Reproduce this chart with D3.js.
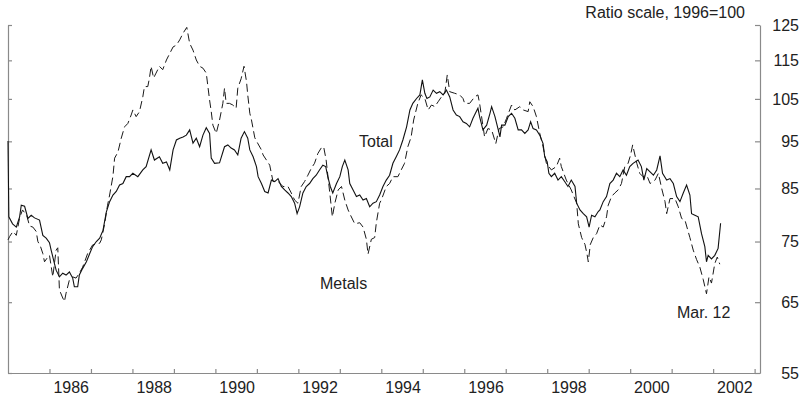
<!DOCTYPE html>
<html>
<head>
<meta charset="utf-8">
<script src="https://cdn.jsdelivr.net/npm/d3@7"></script>
<style>
  body { margin: 0; background: #fff; }
  svg { display: block; font-family: "Liberation Sans", Arial, Helvetica, sans-serif; }
</style>
</head>
<body>
<div id="chart"></div>
<script>
// Total index (solid), decimal years
const totalYears = [
  1985.00, 1985.02, 1985.11, 1985.20, 1985.28, 1985.32, 1985.40, 1985.48, 1985.56, 1985.64,
  1985.76, 1985.84, 1985.92, 1986.00, 1986.04, 1986.12, 1986.16, 1986.24, 1986.32, 1986.40,
  1986.48, 1986.56, 1986.60, 1986.68, 1986.72, 1986.80, 1986.89, 1986.97, 1987.04, 1987.13,
  1987.21, 1987.29, 1987.37, 1987.45, 1987.53, 1987.61, 1987.69, 1987.77, 1987.85, 1987.93,
  1988.01, 1988.13, 1988.25, 1988.33, 1988.45, 1988.53, 1988.65, 1988.73, 1988.82, 1988.90,
  1988.98, 1989.06, 1989.14, 1989.22, 1989.30, 1989.38, 1989.46, 1989.54, 1989.62, 1989.70,
  1989.78, 1989.86, 1989.90, 1989.98, 1990.10, 1990.22, 1990.30, 1990.38, 1990.46, 1990.54,
  1990.62, 1990.70, 1990.78, 1990.83, 1990.91, 1990.99, 1991.03, 1991.11, 1991.19, 1991.27,
  1991.35, 1991.43, 1991.51, 1991.59, 1991.67, 1991.75, 1991.83, 1991.91, 1991.97, 1992.03,
  1992.11, 1992.19, 1992.27, 1992.35, 1992.43, 1992.51, 1992.59, 1992.66, 1992.71, 1992.77,
  1992.83, 1992.92, 1993.00, 1993.06, 1993.12, 1993.20, 1993.24, 1993.32, 1993.40, 1993.48,
  1993.56, 1993.64, 1993.72, 1993.80, 1993.88, 1993.96, 1994.04, 1994.12, 1994.20, 1994.28,
  1994.36, 1994.44, 1994.52, 1994.61, 1994.69, 1994.76, 1994.85, 1994.93, 1994.99, 1995.05,
  1995.10, 1995.17, 1995.25, 1995.33, 1995.41, 1995.49, 1995.57, 1995.65, 1995.73, 1995.81,
  1995.89, 1995.97, 1996.05, 1996.13, 1996.21, 1996.29, 1996.33, 1996.37, 1996.45, 1996.54,
  1996.62, 1996.66, 1996.74, 1996.82, 1996.86, 1996.90, 1996.98, 1997.06, 1997.14, 1997.22,
  1997.30, 1997.38, 1997.46, 1997.54, 1997.60, 1997.66, 1997.74, 1997.82, 1997.90, 1997.94,
  1998.00, 1998.04, 1998.10, 1998.18, 1998.26, 1998.34, 1998.42, 1998.50, 1998.58, 1998.67,
  1998.71, 1998.79, 1998.87, 1998.95, 1999.01, 1999.07, 1999.15, 1999.23, 1999.27, 1999.35,
  1999.43, 1999.51, 1999.59, 1999.67, 1999.75, 1999.83, 1999.91, 1999.99, 2000.07, 2000.19,
  2000.27, 2000.33, 2000.40, 2000.48, 2000.56, 2000.64, 2000.72, 2000.78, 2000.88, 2000.96,
  2001.04, 2001.12, 2001.20, 2001.28, 2001.36, 2001.44, 2001.48, 2001.56, 2001.64, 2001.72,
  2001.80, 2001.84, 2001.88, 2001.96, 2002.04, 2002.12, 2002.18
];
const totalValues = [
  95.1, 79.5, 78.2, 77.6, 79.5, 81.7, 81.5, 79.2, 79.8, 79.3,
  78.9, 76.1, 75.6, 74.8, 73.5, 71.2, 70.1, 69.0, 69.6, 69.3,
  69.8, 68.8, 67.4, 67.4, 69.3, 70.4, 71.5, 72.9, 74.1, 75.0,
  75.6, 77.0, 80.4, 82.4, 83.7, 84.4, 85.7, 86.0, 87.4, 87.4,
  88.1, 87.4, 88.8, 89.5, 93.1, 90.9, 91.6, 90.2, 90.5, 88.8,
  93.1, 95.3, 95.7, 96.0, 96.4, 97.6, 94.6, 95.7, 93.8, 96.4,
  98.1, 96.8, 91.3, 90.2, 90.3, 93.8, 94.2, 93.5, 93.1, 92.0,
  95.7, 97.2, 95.7, 93.1, 91.6, 89.5, 87.4, 86.0, 84.4, 84.1,
  86.7, 86.4, 87.0, 85.4, 84.7, 84.1, 83.4, 82.1, 80.1, 81.4,
  84.1, 85.4, 86.0, 87.0, 87.7, 88.8, 89.8, 89.5, 87.4, 85.4,
  84.1, 86.0, 87.4, 89.5, 90.9, 88.8, 86.0, 84.7, 83.4, 83.7,
  82.7, 83.0, 81.4, 82.1, 82.4, 83.7, 85.4, 86.7, 87.7, 90.2,
  91.6, 93.1, 95.3, 98.3, 102.3, 103.9, 105.1, 106.0, 109.8, 106.4,
  105.1, 105.5, 107.2, 106.4, 106.8, 106.0, 107.2, 105.5, 102.3, 101.1,
  100.7, 99.5, 99.1, 98.3, 100.3, 101.9, 102.7, 100.7, 97.6, 98.7,
  101.5, 103.1, 100.7, 97.6, 96.0, 98.7, 98.7, 100.7, 101.5, 100.3,
  97.6, 97.6, 96.8, 97.6, 99.5, 97.9, 97.6, 96.4, 94.5, 91.6,
  90.5, 88.1, 87.4, 88.1, 86.7, 87.4, 86.4, 85.4, 86.7, 85.4,
  82.1, 80.8, 80.1, 79.5, 77.6, 79.8, 79.5, 80.5, 80.8, 82.4,
  83.4, 86.0, 86.7, 88.1, 87.4, 88.8, 87.7, 89.5, 90.2, 90.9,
  89.5, 86.7, 89.1, 88.4, 87.7, 88.8, 91.8, 88.1, 86.7, 87.0,
  86.0, 83.4, 82.4, 84.1, 85.7, 83.7, 80.1, 79.8, 79.5, 76.4,
  74.1, 71.5, 72.6, 72.0, 72.6, 73.8, 78.3
];

// Metals index (dashed)
const metalsYears = [
  1985.00, 1985.04, 1985.12, 1985.20, 1985.28, 1985.35, 1985.45, 1985.52, 1985.60, 1985.68,
  1985.72, 1985.78, 1985.84, 1985.88, 1985.96, 1986.00, 1986.08, 1986.16, 1986.20, 1986.24,
  1986.31, 1986.36, 1986.40, 1986.48, 1986.56, 1986.64, 1986.72, 1986.80, 1986.92, 1987.04,
  1987.21, 1987.25, 1987.33, 1987.40, 1987.45, 1987.53, 1987.57, 1987.65, 1987.73, 1987.81,
  1987.89, 1987.97, 1988.01, 1988.09, 1988.17, 1988.25, 1988.29, 1988.37, 1988.41, 1988.45,
  1988.51, 1988.57, 1988.65, 1988.73, 1988.82, 1988.90, 1988.98, 1989.06, 1989.14, 1989.22,
  1989.31, 1989.38, 1989.46, 1989.54, 1989.62, 1989.70, 1989.78, 1989.86, 1989.90, 1989.94,
  1990.02, 1990.10, 1990.18, 1990.22, 1990.26, 1990.34, 1990.42, 1990.50, 1990.54, 1990.62,
  1990.69, 1990.75, 1990.78, 1990.83, 1990.87, 1990.95, 1991.03, 1991.11, 1991.15, 1991.23,
  1991.31, 1991.39, 1991.51, 1991.63, 1991.75, 1991.83, 1991.91, 1991.99, 1992.07, 1992.15,
  1992.23, 1992.31, 1992.39, 1992.47, 1992.55, 1992.61, 1992.67, 1992.75, 1992.82, 1992.88,
  1992.96, 1993.04, 1993.12, 1993.20, 1993.24, 1993.36, 1993.48, 1993.56, 1993.64, 1993.68,
  1993.76, 1993.84, 1993.88, 1993.96, 1994.00, 1994.12, 1994.20, 1994.28, 1994.40, 1994.48,
  1994.56, 1994.64, 1994.72, 1994.78, 1994.88, 1994.96, 1995.05, 1995.13, 1995.21, 1995.29,
  1995.37, 1995.45, 1995.53, 1995.59, 1995.65, 1995.77, 1995.89, 1995.97, 1996.01, 1996.09,
  1996.13, 1996.25, 1996.33, 1996.37, 1996.49, 1996.57, 1996.66, 1996.76, 1996.84, 1996.94,
  1997.02, 1997.14, 1997.22, 1997.34, 1997.42, 1997.54, 1997.58, 1997.66, 1997.74, 1997.82,
  1997.90, 1997.98, 1998.10, 1998.22, 1998.30, 1998.34, 1998.46, 1998.58, 1998.71, 1998.75,
  1998.83, 1998.91, 1998.96, 1998.99, 1999.04, 1999.11, 1999.19, 1999.27, 1999.35, 1999.43,
  1999.47, 1999.55, 1999.63, 1999.71, 1999.79, 1999.87, 1999.95, 2000.01, 2000.06, 2000.16,
  2000.23, 2000.31, 2000.40, 2000.48, 2000.60, 2000.68, 2000.76, 2000.84, 2000.88, 2000.96,
  2001.08, 2001.16, 2001.24, 2001.32, 2001.44, 2001.52, 2001.60, 2001.68, 2001.76, 2001.84,
  2001.90, 2001.96, 2002.04, 2002.10, 2002.16
];
const metalsValues = [
  75.3, 75.9, 76.8, 76.1, 79.3, 80.8, 79.8, 77.8, 77.6, 76.8,
  75.0, 74.2, 72.9, 71.5, 72.3, 72.6, 69.0, 73.5, 73.9, 66.9,
  65.8, 65.1, 66.4, 68.5, 69.0, 68.8, 69.6, 70.6, 72.9, 74.4,
  74.7, 75.3, 78.2, 81.7, 83.7, 87.5, 91.3, 92.6, 95.7, 98.3,
  99.1, 101.1, 102.3, 100.7, 101.9, 105.5, 108.1, 108.1, 110.3, 113.4,
  110.3, 111.6, 113.4, 112.5, 115.1, 116.9, 118.7, 119.2, 120.7, 122.6,
  124.3, 119.7, 117.8, 115.1, 113.4, 112.9, 111.6, 104.7, 101.9, 98.7,
  96.8, 99.9, 103.9, 107.7, 103.9, 103.9, 103.5, 102.7, 107.7, 110.1,
  113.4, 109.4, 106.0, 101.5, 99.9, 95.8, 94.4, 93.1, 92.0, 90.9,
  89.8, 86.4, 86.4, 85.4, 85.4, 84.1, 82.7, 82.1, 85.4, 86.4,
  87.7, 89.1, 90.2, 92.3, 93.5, 93.8, 90.9, 84.7, 79.5, 82.1,
  84.7, 85.4, 82.7, 80.8, 80.1, 78.2, 78.4, 77.6, 75.4, 72.8,
  75.4, 75.7, 78.4, 82.1, 82.7, 85.4, 86.0, 87.4, 87.4, 88.8,
  90.2, 93.8, 96.0, 99.9, 103.9, 106.0, 105.1, 102.3, 103.5, 103.1,
  104.3, 105.5, 106.4, 111.1, 106.8, 106.4, 106.0, 105.1, 103.9, 103.9,
  103.9, 105.5, 106.0, 103.9, 96.0, 97.9, 97.6, 94.5, 97.9, 98.3,
  100.3, 103.5, 102.3, 103.1, 102.3, 101.9, 104.3, 103.1, 100.7, 96.8,
  93.8, 90.2, 88.8, 89.5, 91.3, 89.5, 86.7, 84.7, 82.1, 78.2,
  75.7, 74.5, 72.8, 71.5, 74.5, 75.7, 76.4, 78.0, 77.6, 79.5,
  81.7, 83.4, 84.1, 84.7, 86.0, 89.5, 90.2, 92.0, 94.2, 90.2,
  88.1, 87.4, 87.7, 86.0, 86.7, 88.1, 85.0, 82.4, 80.1, 83.0,
  83.0, 81.4, 79.2, 78.9, 75.7, 73.5, 71.9, 70.6, 68.6, 66.3,
  69.0, 68.0, 71.2, 72.3, 71.1
];

// Axis ticks
const yTickValues = [55, 65, 75, 85, 95, 105, 115, 125];
const yearTicks = d3.range(1986, 2004);
const yearLabels = [1986, 1988, 1990, 1992, 1994, 1996, 1998, 2000, 2002];

const width = 804, height = 402;
const plot = { left: 8, right: 760, top: 25, bottom: 373 };
const axisColor = "#8a8a8a";

const svg = d3.select("#chart").append("svg")
  .attr("width", width)
  .attr("height", height);

const x = d3.scaleLinear()
  .domain([1985.0, 2003.13])
  .range([plot.left, plot.right]);

// ratio scale
const y = d3.scaleLog()
  .domain([55, 125])
  .range([plot.bottom, plot.top]);

// bottom axis, ticks pointing inward
const xAxis = svg.append("g")
  .attr("transform", `translate(0,${plot.bottom})`)
  .call(d3.axisBottom(x).tickValues(yearTicks).tickSize(-4).tickSizeOuter(0).tickFormat(""));

// left axis, ticks only
const leftAxis = svg.append("g")
  .attr("transform", `translate(${plot.left},0)`)
  .call(d3.axisLeft(y).tickValues(yTickValues).tickSize(-4).tickSizeOuter(0).tickFormat(""));

// right axis with labels
const rightAxis = svg.append("g")
  .attr("transform", `translate(${plot.right},0)`)
  .call(d3.axisRight(y).tickValues(yTickValues).tickSize(-5).tickSizeOuter(0).tickFormat(d3.format("d")));

[xAxis, leftAxis, rightAxis].forEach(g => {
  g.select(".domain").attr("stroke", axisColor).attr("stroke-width", 1.2);
  g.selectAll(".tick line").attr("stroke", axisColor).attr("stroke-width", 1.2);
});

rightAxis.selectAll(".tick text")
  .attr("x", 39)
  .attr("text-anchor", "end")
  .attr("fill", "#222")
  .style("font-size", "16px")
  .style("font-family", "'Liberation Sans', Arial, sans-serif");

// year labels sit in the middle of each year
svg.append("g").selectAll("text")
  .data(yearLabels)
  .join("text")
  .attr("x", d => x(d + 0.5) + 1)
  .attr("y", 393)
  .attr("text-anchor", "middle")
  .attr("fill", "#222")
  .style("font-size", "16px")
  .text(d => d);

// series lines
const line = d3.line()
  .x(d => x(d[0]))
  .y(d => y(d[1]));

const metals = d3.zip(metalsYears, metalsValues);
const total = d3.zip(totalYears, totalValues);

svg.append("path")
  .datum(metals)
  .attr("fill", "none")
  .attr("stroke", "#1a1a1a")
  .attr("stroke-width", 1)
  .attr("stroke-dasharray", "8,4")
  .attr("d", line);

svg.append("path")
  .datum(total)
  .attr("fill", "none")
  .attr("stroke", "#111")
  .attr("stroke-width", 1.1)
  .attr("d", line);

// annotations
const notes = [
  { text: "Ratio scale, 1996=100", x: 745, y: 18, anchor: "end" },
  { text: "Total", x: 359, y: 147, anchor: "start" },
  { text: "Metals", x: 320, y: 289, anchor: "start" },
  { text: "Mar. 12", x: 677, y: 318, anchor: "start" }
];

svg.append("g").selectAll("text")
  .data(notes)
  .join("text")
  .attr("x", d => d.x)
  .attr("y", d => d.y)
  .attr("text-anchor", d => d.anchor)
  .attr("fill", "#222")
  .style("font-size", "16px")
  .text(d => d.text);
</script>
</body>
</html>
